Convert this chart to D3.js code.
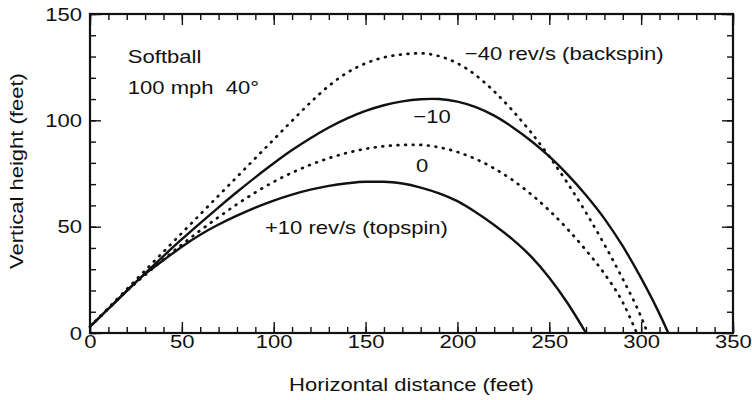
<!DOCTYPE html>
<html>
<head>
<meta charset="utf-8">
<script src="https://cdn.jsdelivr.net/npm/d3@7"></script>
<style>
  html, body { margin: 0; padding: 0; background: #fff; }
  svg { display: block; }
  text { font-family: "Liberation Sans", Arial, Helvetica, sans-serif; font-size: 19px; fill: #111; white-space: pre; }
</style>
</head>
<body>
<svg id="chart" width="752" height="400"></svg>
<script>
// ---- data: [horizontal ft, height ft] ----
const spinLabels = ["+10 rev/s (topspin)", "0", "\u221210", "\u221240 rev/s (backspin)"];
const topspin10 = [[0,3],[10,11.4],[20,19.8],[30,27.8],[40,34.2],[50,40.6],[60,46.2],[70,51],[80,55.2],[90,59],[100,62.3],[110,65.1],[120,67.4],[130,69.2],[140,70.4],[150,71.1],[160,71.1],[170,70.3],[180,68.4],[190,65.7],[200,62],[210,56.8],[220,50.8],[230,44],[240,36],[250,26],[260,14],[270,0]];
const spin0 = [[0,3],[10,11.4],[20,19.7],[30,27.3],[40,34.6],[50,41.6],[60,48.2],[70,54.5],[80,60.5],[90,66.1],[100,71.1],[110,75.4],[120,79.1],[130,82.2],[140,84.7],[150,86.6],[160,87.8],[170,88.4],[178,88.5],[190,87.3],[200,85.1],[210,81.8],[220,77.4],[230,71.9],[240,65.3],[250,57.6],[260,48.8],[270,38.9],[280,27.9],[290,14.4],[297.6,0]];
const backspin10 = [[0,3],[10,11.4],[20,19.8],[30,28.1],[40,36.2],[50,44.1],[60,51.7],[70,59.1],[80,66.3],[90,73.2],[100,79.8],[110,86],[120,91.6],[130,96.6],[140,100.9],[150,104.4],[160,107.1],[170,108.9],[180,109.9],[186,110.1],[190,110],[200,108.8],[210,106.2],[220,102.2],[230,96.8],[240,90.4],[250,83],[260,74.5],[270,64.8],[280,53.8],[290,40.8],[300,25.8],[310,9],[314.8,0]];
const backspin40 = [[0,3],[10,11.8],[20,20.6],[30,29.4],[40,38.2],[50,47],[60,55.8],[70,64.6],[80,73.4],[90,82.2],[100,91],[110,99.8],[120,108.4],[130,116.2],[140,122.4],[150,126.8],[160,129.6],[170,131],[180,131.5],[190,130.2],[200,126.8],[210,121.2],[220,113.6],[230,104.6],[240,94.4],[250,83],[260,70.4],[270,56.6],[280,41.6],[290,25.4],[300,7.5],[303.5,0]];
const xTickLabels = [0, 50, 100, 150, 200, 250, 300, 350];
const yTickLabels = [0, 50, 100, 150];
const noteLines = ["Softball", "100 mph  40\u00b0"];
const xTitle = "Horizontal distance (feet)";
const yTitle = "Vertical height (feet)";

// ---- layout ----
const W = 752, H = 400;
const L = 90, R = 733, T = 14, B = 333;
const SX = 1.16;      // horizontal glyph stretch of the reference typeface
const ink = "#111";

const svg = d3.select("#chart");
const x = d3.scaleLinear().domain([0, 350]).range([L, R]);
const y = d3.scaleLinear().domain([0, 150]).range([B, T]);

const xMinor = d3.range(0, 351, 10);
const yMinor = d3.range(0, 151, 10);

function styleAxis(g) {
  g.select(".domain").remove();
  g.selectAll(".tick line").attr("stroke", ink).attr("stroke-width", 1.4);
}
function stretchText(g) {
  g.selectAll("text").each(function () {
    const t = d3.select(this);
    const x0 = +t.attr("x") || 0;
    t.attr("x", x0 / SX).attr("transform", `scale(${SX},1)`)
     .attr("fill", ink).style("font-size", "19px")
     .style("font-family", '"Liberation Sans", Arial, Helvetica, sans-serif');
  });
}

// minor ticks (inward) on all four sides
svg.append("g").attr("transform", `translate(0,${B})`)
  .call(d3.axisBottom(x).tickValues(xMinor).tickSize(-6).tickFormat(""))
  .call(styleAxis);
svg.append("g").attr("transform", `translate(0,${T})`)
  .call(d3.axisTop(x).tickValues(xMinor).tickSize(-6).tickFormat(""))
  .call(styleAxis);
svg.append("g").attr("transform", `translate(${L},0)`)
  .call(d3.axisLeft(y).tickValues(yMinor).tickSize(-6).tickFormat(""))
  .call(styleAxis);
svg.append("g").attr("transform", `translate(${R},0)`)
  .call(d3.axisRight(y).tickValues(yMinor).tickSize(-6).tickFormat(""))
  .call(styleAxis);

// major ticks with labels
svg.append("g").attr("transform", `translate(0,${B})`)
  .call(d3.axisBottom(x).tickValues(xTickLabels).tickSize(-11).tickPadding(2).tickFormat(d3.format("d")))
  .call(styleAxis).call(stretchText);
svg.append("g").attr("transform", `translate(0,${T})`)
  .call(d3.axisTop(x).tickValues(xTickLabels).tickSize(-11).tickFormat(""))
  .call(styleAxis);
svg.append("g").attr("transform", `translate(${L},0)`)
  .call(d3.axisLeft(y).tickValues(yTickLabels).tickSize(-11).tickPadding(8).tickFormat(d3.format("d")))
  .call(styleAxis).call(stretchText);
svg.append("g").attr("transform", `translate(${R},0)`)
  .call(d3.axisRight(y).tickValues(yTickLabels).tickSize(-11).tickFormat(""))
  .call(styleAxis);

// frame
svg.append("rect")
  .attr("x", x(0)).attr("y", y(150))
  .attr("width", x(350) - x(0)).attr("height", y(0) - y(150))
  .attr("fill", "none").attr("stroke", ink).attr("stroke-width", 2.2);

// trajectories
const line = d3.line().x(d => x(d[0])).y(d => y(d[1])).curve(d3.curveMonotoneX);
const series = [
  { data: topspin10, dotted: false },
  { data: spin0, dotted: true },
  { data: backspin10, dotted: false },
  { data: backspin40, dotted: true }
];
series.forEach(s => {
  const p = svg.append("path").datum(s.data)
    .attr("d", line).attr("fill", "none").attr("stroke", ink);
  if (s.dotted) {
    p.attr("stroke-width", 2.7).attr("stroke-linecap", "round").attr("stroke-dasharray", "0.8 6.8");
  } else {
    p.attr("stroke-width", 2.4).attr("stroke-linejoin", "round");
  }
});

// text helper (stretched like the reference typeface)
function label(txt, px, py, anchor, rot) {
  const tr = rot ? `translate(${px},${py}) rotate(${rot}) scale(${SX},1)` : `translate(${px},${py}) scale(${SX},1)`;
  svg.append("text").attr("transform", tr).attr("text-anchor", anchor || "start").text(txt);
}

// curve labels
label(spinLabels[3], x(204), y(150) + 46, "start");
label(spinLabels[2], x(176), y(150) + 109, "start");
label(spinLabels[1], x(177.5), y(150) + 157.5, "start");
label(spinLabels[0], x(95.2), y(150) + 219.5, "start");

// notes
label(noteLines[0], x(20.6), 62.8, "start");
label(noteLines[1], x(20.6), 94, "start");

// axis titles
label(xTitle, (L + R) / 2, 391, "middle");
label(yTitle, 23, 171, "middle", -90);
</script>
</body>
</html>
